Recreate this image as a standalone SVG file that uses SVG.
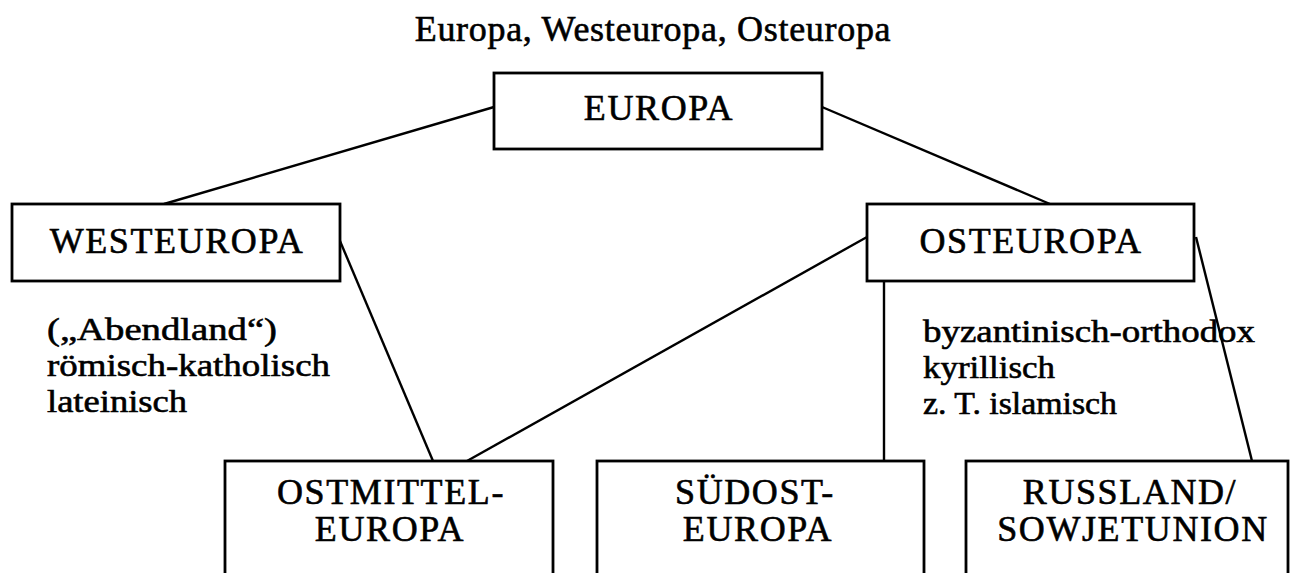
<svg xmlns="http://www.w3.org/2000/svg" width="1293" height="573" viewBox="0 0 1293 573">
<style>
.box{fill:#fff;stroke:#000;stroke-width:2.8}
.cap{font-family:"Liberation Serif","Times New Roman",serif;font-size:36px;letter-spacing:1.6px;text-anchor:middle;fill:#000;stroke:#000;stroke-width:0.6}
.txt{font-family:"Liberation Serif","Times New Roman",serif;font-size:32px;fill:#000;stroke:#000;stroke-width:0.6}
.title{font-family:"Liberation Serif","Times New Roman",serif;font-size:36px;letter-spacing:0.7px;text-anchor:middle;fill:#000;stroke:#000;stroke-width:0.6}
.ln{stroke:#000;stroke-width:2.4;fill:none}
</style>
<rect width="1293" height="573" fill="#fff"/>
<text class="title" x="653" y="41">Europa, Westeuropa, Osteuropa</text>
<g id="connectors">
<line class="ln" x1="494" y1="107" x2="164" y2="204"/>
<line class="ln" x1="822" y1="107" x2="1050" y2="204"/>
<line class="ln" x1="340" y1="241" x2="433" y2="461"/>
<line class="ln" x1="867" y1="237" x2="467" y2="461"/>
<line class="ln" x1="884" y1="281" x2="884" y2="461"/>
<line class="ln" x1="1196" y1="237" x2="1252" y2="461"/>
</g>
<g id="europa">
<rect class="box" x="494" y="73" width="328" height="76"/>
<text class="cap" x="659" y="120">EUROPA</text>
</g>
<g id="westeuropa">
<rect class="box" x="12" y="204" width="328" height="77"/>
<text class="cap" x="177" y="253">WESTEUROPA</text>
</g>
<g id="osteuropa">
<rect class="box" x="867" y="204" width="327" height="77"/>
<text class="cap" x="1031" y="253">OSTEUROPA</text>
</g>
<g id="west-notes">
<text class="txt" x="47" y="340" textLength="230" lengthAdjust="spacingAndGlyphs">(„Abendland“)</text>
<text class="txt" x="47" y="376" textLength="283" lengthAdjust="spacingAndGlyphs">römisch-katholisch</text>
<text class="txt" x="47" y="412" textLength="140" lengthAdjust="spacingAndGlyphs">lateinisch</text>
</g>
<g id="ost-notes">
<text class="txt" x="923" y="342" textLength="332" lengthAdjust="spacingAndGlyphs">byzantinisch-orthodox</text>
<text class="txt" x="923" y="378" textLength="132" lengthAdjust="spacingAndGlyphs">kyrillisch</text>
<text class="txt" x="923" y="414" textLength="194" lengthAdjust="spacingAndGlyphs">z. T. islamisch</text>
</g>
<g id="ostmitteleuropa">
<rect class="box" x="225" y="461" width="328" height="130"/>
<text class="cap" x="391" y="504">OSTMITTEL-</text>
<text class="cap" x="390" y="541">EUROPA</text>
</g>
<g id="suedosteuropa">
<rect class="box" x="597" y="461" width="327" height="130"/>
<text class="cap" x="755" y="504">SÜDOST-</text>
<text class="cap" x="758" y="541">EUROPA</text>
</g>
<g id="russland">
<rect class="box" x="966" y="461" width="322" height="130"/>
<text class="cap" x="1130" y="504">RUSSLAND/</text>
<text class="cap" x="1133" y="541">SOWJETUNION</text>
</g>
</svg>
